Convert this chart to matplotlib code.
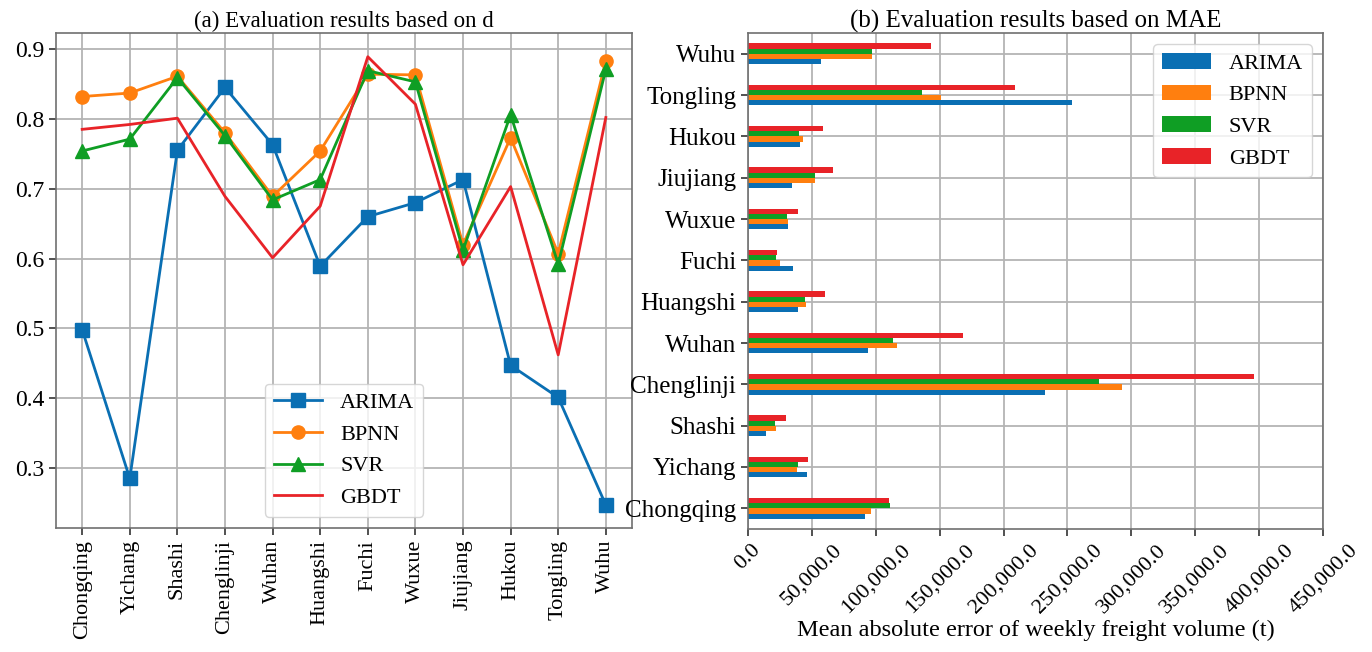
import numpy as np
import matplotlib.pyplot as plt
from matplotlib.ticker import FuncFormatter

stations = ["Chongqing", "Yichang", "Shashi", "Chenglinji", "Wuhan", "Huangshi",
            "Fuchi", "Wuxue", "Jiujiang", "Hukou", "Tongling", "Wuhu"]
models = ["ARIMA", "BPNN", "SVR", "GBDT"]
colors = ["#0a6fb3", "#ff7f0f", "#0f9e24", "#e82328"]

# (a) index of agreement d
d_arima = [0.498, 0.285, 0.755, 0.845, 0.763, 0.589, 0.660, 0.680, 0.713, 0.447, 0.401, 0.247]
d_bpnn = [0.832, 0.837, 0.861, 0.780, 0.689, 0.754, 0.864, 0.863, 0.620, 0.773, 0.607, 0.883]
d_svr = [0.754, 0.771, 0.859, 0.776, 0.684, 0.713, 0.869, 0.853, 0.612, 0.806, 0.592, 0.871]
d_gbdt = [0.785, 0.792, 0.801, 0.689, 0.601, 0.675, 0.889, 0.821, 0.591, 0.703, 0.462, 0.802]

# (b) MAE (t)
mae_arima = [91600, 46200, 14100, 232400, 93900, 38900, 35500, 31600, 34200, 41000, 253800, 56900]
mae_bpnn = [96200, 38100, 22200, 292900, 116600, 45700, 25300, 31600, 52400, 42800, 150800, 97000]
mae_svr = [111400, 38900, 20900, 274700, 113700, 44900, 22200, 30300, 52400, 40200, 136400, 97000]
mae_gbdt = [110300, 46700, 29500, 396200, 168500, 60000, 22900, 39400, 66200, 58700, 208900, 143200]

plt.rcParams['font.family'] = ['Liberation Serif', 'DejaVu Serif']
plt.rcParams['font.size'] = 16

fig = plt.figure(figsize=(13.72, 6.52), dpi=100)
ax1 = fig.add_axes([56 / 1372, 124 / 652, 576 / 1372, 495 / 652])
ax2 = fig.add_axes([748 / 1372, 123 / 652, 575 / 1372, 496 / 652])

for ax in (ax1, ax2):
    ax.grid(True, color="#b4b4b4", linewidth=1.3)
    ax.set_axisbelow(True)
    for s in ax.spines.values():
        s.set_color("#707070")
        s.set_linewidth(1.2)
    ax.tick_params(length=5, width=1.2, color="#333333", labelsize=16)

x = np.arange(len(stations))
ax1.plot(x, d_arima, color=colors[0], marker="s", ms=9.5, lw=2, label="ARIMA")
ax1.plot(x, d_bpnn, color=colors[1], marker="o", ms=9.5, lw=2, label="BPNN")
ax1.plot(x, d_svr, color=colors[2], marker="^", ms=9.5, lw=2, label="SVR")
ax1.plot(x, d_gbdt, color=colors[3], lw=2, label="GBDT")
ax1.set_xticks(x)
ax1.set_xticklabels(stations, rotation=90)
ax1.set_yticks([0.3, 0.4, 0.5, 0.6, 0.7, 0.8, 0.9])
ax1.set_ylim(0.214, 0.923)
ax1.tick_params(axis="y", labelsize=17)
ax1.set_title("(a) Evaluation results based on d", fontsize=16.5, pad=4)
ax1.legend(loc="lower center", fontsize=16, handlelength=2.2, framealpha=0.8)

h = 0.125
for k, (vals, name) in enumerate(zip([mae_arima, mae_bpnn, mae_svr, mae_gbdt], models)):
    ax2.barh(x + (k - 1.5) * h, vals, height=h, color=colors[k], label=name)
ax2.set_yticks(x)
ax2.set_yticklabels(stations, fontsize=18)
ax2.set_ylim(-0.5, 11.5)
ax2.set_xlim(0, 450000)
ax2.set_xticks(np.arange(0, 450001, 50000))
ax2.xaxis.set_major_formatter(FuncFormatter(lambda v, p: f"{v:,.1f}"))
plt.setp(ax2.get_xticklabels(), rotation=45, ha="center")
ax2.set_xlabel("Mean absolute error of weekly freight volume (t)", fontsize=17.5, labelpad=2)
ax2.set_title("(b) Evaluation results based on MAE", fontsize=18, pad=4)
ax2.legend(loc="upper right", fontsize=16, handlelength=2.2, framealpha=0.8)

fig.savefig("out.png", dpi=100)
